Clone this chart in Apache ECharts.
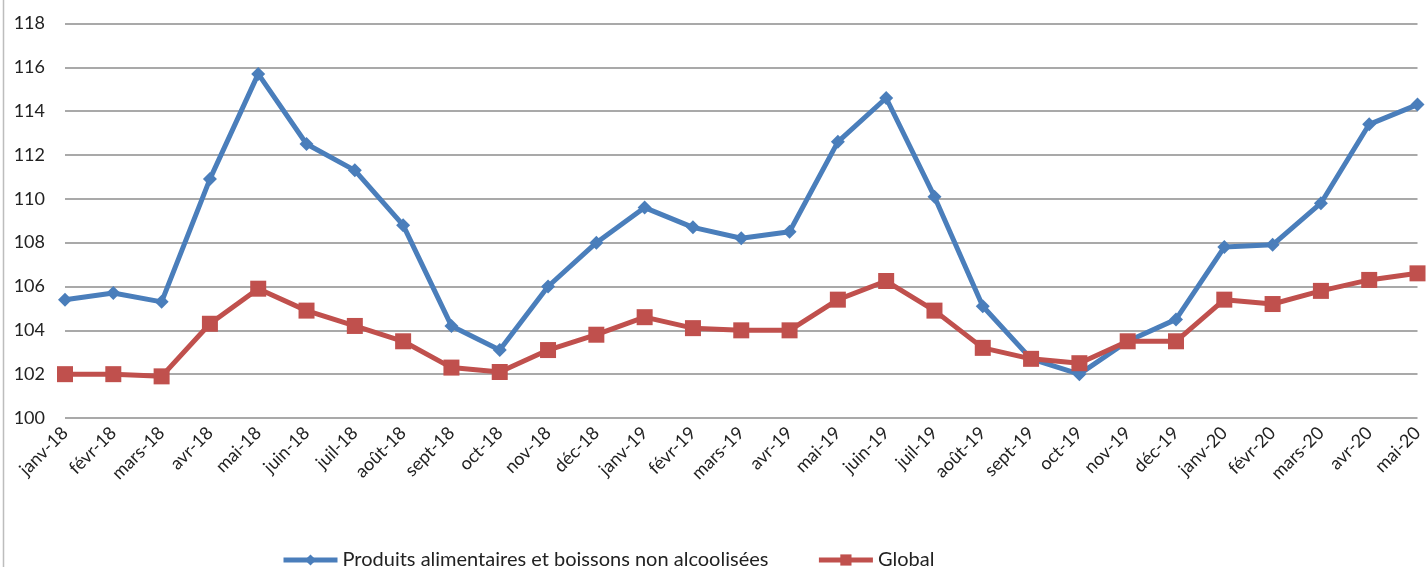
<!DOCTYPE html>
<html><head><meta charset="utf-8">
<script src="https://cdn.jsdelivr.net/npm/echarts@6/dist/echarts.min.js"></script>
<style>html,body{margin:0;padding:0;background:#fff}#c{width:1426px;height:567px}</style>
</head><body><div id="c"></div>
<script>
const categories = ['janv-18','févr-18','mars-18','avr-18','mai-18','juin-18','juil-18','août-18','sept-18','oct-18','nov-18','déc-18','janv-19','févr-19','mars-19','avr-19','mai-19','juin-19','juil-19','août-19','sept-19','oct-19','nov-19','déc-19','janv-20','févr-20','mars-20','avr-20','mai-20'];
const produits = [105.4,105.7,105.3,110.9,115.7,112.5,111.3,108.8,104.2,103.1,106.0,108.0,109.6,108.7,108.2,108.5,112.6,114.6,110.1,105.1,102.7,102.0,103.5,104.5,107.8,107.9,109.8,113.4,114.3];
const global = [102.0,102.0,101.9,104.3,105.9,104.9,104.2,103.5,102.3,102.1,103.1,103.8,104.6,104.1,104.0,104.0,105.4,106.25,104.9,103.2,102.7,102.5,103.5,103.5,105.4,105.2,105.8,106.3,106.6];
const names = ['Produits alimentaires et boissons non alcoolisées','Global'];

const chart = echarts.init(document.getElementById('c'));
const font = 'Lato, "Open Sans", sans-serif';
chart.setOption({
  animation:false,
  textStyle:{fontFamily:font},
  grid:{left:65,right:4,top:23.5,bottom:149,containLabel:false},
  graphic:[{type:'line',shape:{x1:3.5,y1:0,x2:3.5,y2:567},style:{stroke:'#bdbdbd',lineWidth:1.5}}],
  legend:{
    top:545,left:276,itemGap:48,itemWidth:54,itemHeight:14,
    lineStyle:{width:5},
    textStyle:{fontSize:20,color:'#222',fontFamily:font},
    data:names
  },
  xAxis:{
    type:'category',data:categories,boundaryGap:false,
    axisLine:{show:false},axisTick:{show:false},
    axisLabel:{rotate:45,fontSize:18,color:'#222',margin:12,interval:0,fontFamily:font}
  },
  yAxis:{
    type:'value',min:100,max:118,interval:2,
    axisLine:{show:false},axisTick:{show:false},
    axisLabel:{fontSize:18,color:'#222',margin:20,fontFamily:font},
    splitLine:{lineStyle:{color:'#8c8c8c',width:1.5}}
  },
  series:[
    {name:names[0],type:'line',data:produits,symbol:'diamond',symbolSize:14,
     lineStyle:{color:'#4a7ebb',width:5},itemStyle:{color:'#4a7ebb'}},
    {name:names[1],type:'line',data:global,symbol:'rect',symbolSize:16,
     lineStyle:{color:'#c0504d',width:5},itemStyle:{color:'#c0504d'}}
  ]
});
</script></body></html>
